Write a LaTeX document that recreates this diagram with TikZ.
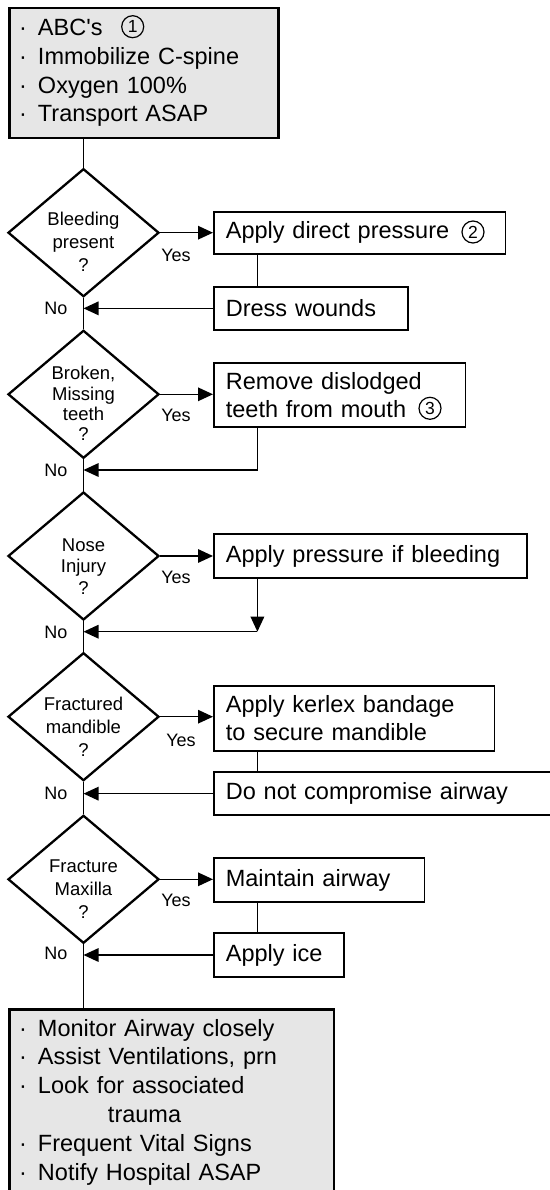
\documentclass[tikz,border=0pt]{standalone}
\usepackage{fontspec}
\setmainfont{Liberation Sans}
\usetikzlibrary{shapes.geometric,arrows.meta,positioning}
\definecolor{panelgray}{RGB}{230,230,230}
\newcommand{\bul}{\makebox[8pt][c]{·}\hspace{11pt}}
\newcommand{\apos}{\XeTeXglyph\XeTeXglyphindex "quotesingle"\relax}
\tikzset{
	decision/.style={diamond, draw, line width=2.3pt, minimum width=151pt, minimum height=128pt, inner sep=0pt},
	qtext/.style={align=center, inner sep=0pt, font=\fontsize{18.5pt}{23.4pt}\selectfont},
	action/.style={draw, line width=1.7pt, anchor=west, inner xsep=12pt, inner ysep=0pt, align=left, font=\fontsize{23.5pt}{28.5pt}\selectfont},
	panel/.style={draw, line width=2.6pt, fill=panelgray, anchor=north west, inner xsep=9.4pt, inner ysep=0pt, align=left, font=\fontsize{23.5pt}{28.8pt}\selectfont},
	answer/.style={inner sep=0pt, font=\fontsize{18pt}{18pt}\selectfont},
	callout/.style={circle, draw, line width=1.2pt, minimum size=22pt, inner sep=0pt, font=\fontsize{17.5pt}{17.5pt}\selectfont},
	flow/.style={line width=1.5pt},
	arr/.style={flow, -{Triangle[length=15pt,width=13.5pt]}}
}
\begin{document}
\begin{tikzpicture}[x=1pt,y=-1pt]
	\useasboundingbox (0,0) rectangle (549,1190);

	\node[panel, text width=249.9pt, minimum height=130pt] (start) at (8.3,6.7)
		{\bul ABC\apos s\\\bul Immobilize C-spine\\\bul Oxygen 100\%\\\bul Transport ASAP};
	\node[callout] (c1) at (132.7,26.7) {1};

	\node[decision] (d1) at (83.5,232.7) {};
	\node[qtext] (q1) at (83.5,241.7) {Bleeding\\present\\?};
	\node[decision] (d2) at (83.5,394.3) {};
	\node[qtext, font=\fontsize{18.5pt}{20.2pt}\selectfont] (q2) at (83.5,403.5) {Broken,\\Missing\\teeth\\?};
	\node[decision] (d3) at (83.5,556) {};
	\node[qtext, font=\fontsize{18.5pt}{21.7pt}\selectfont] (q3) at (83.5,566.5) {Nose\\Injury\\?};
	\node[decision] (d4) at (83.5,716.7) {};
	\node[qtext, font=\fontsize{18.5pt}{23.3pt}\selectfont] (q4) at (83.5,726.7) {Fractured\\mandible\\?};
	\node[decision] (d5) at (83.5,879.3) {};
	\node[qtext, font=\fontsize{18.5pt}{23.3pt}\selectfont] (q5) at (83.5,889) {Fracture\\Maxilla\\?};

	\node[action, text width=267.5pt, minimum height=42.3pt] (b1) at (213,232.85) {Apply direct pressure};
	\node[callout] (c2) at (473,232) {2};
	\node[action, text width=170pt, minimum height=43.3pt] (dress) at (213,308.35) {Dress wounds};
	\node[action, text width=227.6pt, minimum height=64.6pt] (b2) at (213,395) {Remove dislodged\\teeth from mouth};
	\node[callout] (c3) at (430,408.3) {3};
	\node[action, text width=289pt, minimum height=44.3pt] (b3) at (213,556.15) {Apply pressure if bleeding};
	\node[action, text width=256.7pt, minimum height=65pt] (b4) at (213,718.2) {Apply kerlex bandage\\to secure mandible};
	\node[action, text width=326pt, minimum height=42.7pt] (airway) at (213,793.65) {Do not compromise airway};
	\node[action, text width=186.7pt, minimum height=43.4pt] (b5) at (213,880) {Maintain airway};
	\node[action, text width=106pt, minimum height=43.4pt] (ice) at (213,955) {Apply ice};

	\node[panel, text width=305.5pt, minimum height=184.7pt] (finish) at (8.3,1008.3)
		{\bul Monitor Airway closely\\\bul Assist Ventilations, prn\\\bul Look for associated\\\hspace*{89pt}trauma\\\bul Frequent Vital Signs\\\bul Notify Hospital ASAP};

	\node[answer] (y1) at (176,255) {Yes};
	\node[answer] (y2) at (176,415) {Yes};
	\node[answer] (y3) at (176,577.3) {Yes};
	\node[answer] (y4) at (181,740) {Yes};
	\node[answer] (y5) at (176,900.7) {Yes};
	\node[answer] (n1) at (56,308.3) {No};
	\node[answer] (n2) at (56,470) {No};
	\node[answer] (n3) at (56,632.7) {No};
	\node[answer] (n4) at (56,793.3) {No};
	\node[answer] (n5) at (56,953.3) {No};

	\coordinate (lk) at (257.4,0);
	\coordinate (k2) at (257.4,470);
	\coordinate (k3) at (257.4,631.7);

	\draw[flow] (start.south -| d1.north) -- (d1.north);
	\draw[flow] (d1.south) -- (d2.north);
	\draw[flow] (d2.south) -- (d3.north);
	\draw[flow] (d3.south) -- (d4.north);
	\draw[flow] (d4.south) -- (d5.north);
	\draw[flow] (d5.south) -- (d5.south |- finish.north);

	\draw[arr] (d1.east) -- (d1.east -| b1.west);
	\draw[arr] (d2.east) -- (d2.east -| b2.west);
	\draw[arr] (d3.east) -- (d3.east -| b3.west);
	\draw[arr] (d4.east) -- (d4.east -| b4.west);
	\draw[arr] (d5.east) -- (d5.east -| b5.west);

	\draw[flow] (lk |- b1.south) -- (lk |- dress.north);
	\draw[arr] (dress.west) -- (dress.west -| d1.south);
	\draw[arr] (lk |- b2.south) -- (k2) -- (k2 -| d2.south);
	\draw[arr] (lk |- b3.south) -- (k3);
	\draw[arr] (k3) -- (k3 -| d3.south);
	\draw[flow] (lk |- b4.south) -- (lk |- airway.north);
	\draw[arr] (airway.west) -- (airway.west -| d4.south);
	\draw[flow] (lk |- b5.south) -- (lk |- ice.north);
	\draw[arr] (ice.west) -- (ice.west -| d5.south);
\end{tikzpicture}
\end{document}
